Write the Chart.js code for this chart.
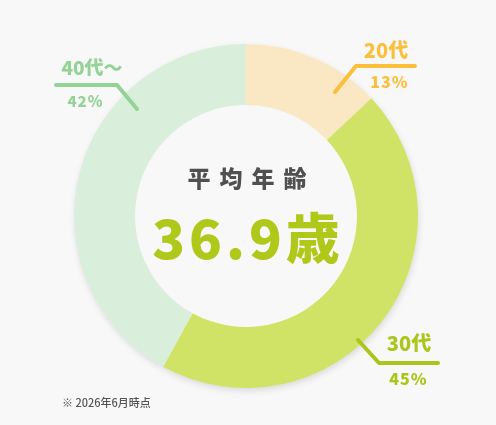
<!DOCTYPE html>
<html>
<head>
<meta charset="utf-8">
<script src="https://cdn.jsdelivr.net/npm/chart.js@4/dist/chart.umd.min.js"></script>
<style>
  html, body { margin: 0; padding: 0; background: #f8f8f8; }
  #wrap { width: 496px; height: 425px; position: relative; }
</style>
</head>
<body>
<div id="wrap"><canvas id="ageChart" width="496" height="425"></canvas></div>
<script>
// age groups, share (%)
const ageLabels = ["20代", "30代", "40代〜"];
const ageShares = [13, 45, 42];
const averageAge = "36.9";
const footnote = "※ 2026年6月時点";

const arcColors = ["#fae8c5", "#d1e366", "#d9eedb"];
const labelColors = ["#fbbf3c", "#abc51a", "#93d395"];

// leader line + label layout, offsets from the doughnut centre
const leaders = [
    { line: [[89, -124], [110, -150], [169, -150]], name: [140, -166], pct: [143, -134], nameSize: 20, pctSize: 16 },
    { line: [[112, 124], [133, 147], [192, 147]], name: [163, 127], pct: [162, 163], nameSize: 20, pctSize: 16 },
    { line: [[-190, -131], [-129, -131], [-109, -107]], name: [-154, -148], pct: [-161, -115], nameSize: 19, pctSize: 15 }
];

const FONT = '"Noto Sans CJK JP", "Noto Sans", sans-serif';

function spacedText(ctx, text, x, y, spacing) {
    const chars = [...text];
    const widths = chars.map(c => ctx.measureText(c).width);
    const total = widths.reduce((a, b) => a + b, 0) + spacing * (chars.length - 1);
    let cx = x - total / 2;
    ctx.textAlign = "left";
    chars.forEach((c, i) => {
        ctx.fillText(c, cx, y);
        cx += widths[i] + spacing;
    });
}

const ringShadow = {
    id: "ringShadow",
    beforeDatasetsDraw(chart) {
        const arc = chart.getDatasetMeta(0).data[0];
        if (!arc) return;
        const ctx = chart.ctx;
        ctx.save();
        ctx.shadowColor = "rgba(0,0,0,0.13)";
        ctx.shadowBlur = 7;
        ctx.shadowOffsetX = 1;
        ctx.shadowOffsetY = 3;
        ctx.fillStyle = "#f8f8f8";
        ctx.beginPath();
        ctx.arc(arc.x, arc.y, arc.outerRadius - 0.5, 0, Math.PI * 2);
        ctx.fill();
        ctx.restore();
    }
};

const annotations = {
    id: "annotations",
    afterDraw(chart) {
        const ctx = chart.ctx;
        const arc = chart.getDatasetMeta(0).data[0];
        const cx = arc.x, cy = arc.y;
        ctx.save();

        // centre text
        ctx.textBaseline = "middle";
        ctx.fillStyle = "#505050";
        ctx.font = "900 23px " + FONT;
        spacedText(ctx, "平均年齢", cx + 1, cy - 38, 9);
        ctx.fillStyle = "#b0c81a";
        ctx.font = "900 54px " + FONT;
        spacedText(ctx, averageAge + "歳", cx, cy + 22, 4);

        // leader lines and labels
        leaders.forEach((ld, i) => {
            ctx.strokeStyle = labelColors[i];
            ctx.lineWidth = 4;
            ctx.lineCap = "round";
            ctx.lineJoin = "round";
            ctx.beginPath();
            ld.line.forEach(([dx, dy], j) => {
                if (j === 0) ctx.moveTo(cx + dx, cy + dy);
                else ctx.lineTo(cx + dx, cy + dy);
            });
            ctx.stroke();

            ctx.fillStyle = labelColors[i];
            ctx.textBaseline = "middle";
            ctx.font = "900 " + ld.nameSize + "px " + FONT;
            spacedText(ctx, ageLabels[i], cx + ld.name[0], cy + ld.name[1], 0);
            ctx.font = "900 " + ld.pctSize + "px " + FONT;
            spacedText(ctx, ageShares[i] + "%", cx + ld.pct[0], cy + ld.pct[1], 1);
        });

        // footnote
        ctx.fillStyle = "#555";
        ctx.font = "500 11px " + FONT;
        ctx.textAlign = "left";
        ctx.fillText(footnote, 62, 403);
        ctx.restore();
    }
};

new Chart(document.getElementById("ageChart"), {
    type: "doughnut",
    data: {
        labels: ageLabels,
        datasets: [{
            data: ageShares,
            backgroundColor: arcColors,
            borderWidth: 0,
            hoverOffset: 0
        }]
    },
    options: {
        responsive: false,
        animation: false,
        cutout: "64.5%",
        layout: { padding: { left: 74, right: 78, top: 44, bottom: 37 } },
        plugins: {
            legend: { display: false },
            tooltip: { enabled: false }
        }
    },
    plugins: [ringShadow, annotations]
});
</script>
</body>
</html>
